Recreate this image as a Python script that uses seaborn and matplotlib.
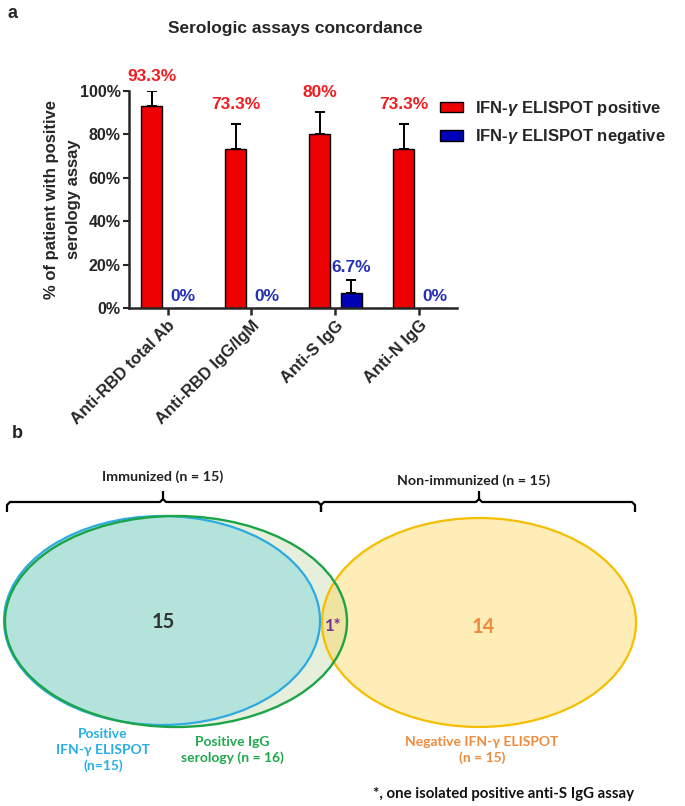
import numpy as np
import pandas as pd
import matplotlib
matplotlib.use('Agg')
import matplotlib.pyplot as plt
import seaborn as sns
from matplotlib.patches import Ellipse, Patch
from matplotlib.ticker import FuncFormatter

# ---------------- data ----------------
assays = ['Anti-RBD total Ab', 'Anti-RBD IgG/IgM', 'Anti-S IgG', 'Anti-N IgG']
groups = ['IFN-$\\gamma$ ELISPOT positive', 'IFN-$\\gamma$ ELISPOT negative']
pos_values = [93.3, 73.3, 80.0, 73.3]
neg_values = [0.0, 0.0, 6.7, 0.0]
pos_err = [6.7, 11.4, 10.3, 11.4]
neg_err = [0.0, 0.0, 6.4, 0.0]

venn_counts = ['15', '1*', '14']
bracket_labels = ['Immunized (n = 15)', 'Non-immunized (n = 15)']
set_labels = ['Positive\nIFN-γ ELISPOT\n(n=15)',
              'Positive IgG\nserology (n = 16)',
              'Negative IFN-γ ELISPOT\n(n = 15)']
footnote = '*, one isolated positive anti-S IgG assay'

# ---------------- style ----------------
sns.set_style('ticks')
plt.rcParams['font.family'] = ['Liberation Sans', 'DejaVu Sans']
plt.rcParams['font.weight'] = 'bold'
plt.rcParams['mathtext.fontset'] = 'custom'
plt.rcParams['mathtext.it'] = 'Liberation Sans:italic:bold'
plt.rcParams['mathtext.rm'] = 'Liberation Sans:bold'

red = '#EC0000'
blue = '#0000B4'
red_txt = '#F01E23'
blue_txt = '#2430B5'

W, H = 685, 806
fig = plt.figure(figsize=(W / 100, H / 100), dpi=100)

# ---------------- panel a ----------------
ax = fig.add_axes([129 / W, 1 - 308 / H, (457 - 129) / W, (308 - 91) / H])

df = pd.DataFrame({
    'assay': assays * 2,
    'group': [groups[0]] * 4 + [groups[1]] * 4,
    'value': pos_values + neg_values,
})
bar_width = 0.75
sns.barplot(data=df, x='assay', y='value', hue='group', palette=[red, blue],
            saturation=1, width=bar_width, gap=0.33, edgecolor='black',
            linewidth=1, errorbar=None, ax=ax, legend=False)

errs = [pos_err, neg_err]
vals = [pos_values, neg_values]
txt_cols = [red_txt, blue_txt]
offs = [[5, 9, 9, 9], [3, 3, 3, 3]]
shift = [-bar_width / 4, bar_width / 4]
for k in range(2):
    for i in range(len(assays)):
        xc = i + shift[k]
        top = vals[k][i] + errs[k][i]
        if errs[k][i] > 0:
            ax.errorbar(xc, vals[k][i], yerr=[[0], [errs[k][i]]], fmt='none',
                        ecolor='black', elinewidth=1.4, capsize=3.5,
                        capthick=1.4, zorder=1)
        ax.annotate(f'{vals[k][i]:g}%', (xc, top), xytext=(0, offs[k][i]),
                    textcoords='offset points', ha='center', va='bottom',
                    color=txt_cols[k], fontsize=12.5, fontweight='bold',
                    annotation_clip=False)

ax.set_ylim(0, 100)
ax.set_xlim(-0.46, 3.45)
ax.set_yticks([0, 20, 40, 60, 80, 100])
ax.yaxis.set_major_formatter(FuncFormatter(lambda v, p: f'{v:.0f}%'))
ax.set_xlabel('')
ax.set_ylabel('% of patient with positive\nserology assay', fontsize=12,
              fontweight='bold', linespacing=1.6)
ax.yaxis.set_label_coords(-0.145, 0.5)
ax.tick_params(axis='y', labelsize=11.5, width=1.5, length=4, pad=2)
ax.tick_params(axis='x', labelsize=12, width=1.8, length=5, pad=2)
plt.setp(ax.get_xticklabels(), rotation=45, ha='right',
         rotation_mode='anchor', fontweight='bold')
sns.despine(ax=ax)
for s in ['left', 'bottom']:
    ax.spines[s].set_linewidth(1.8)

handles = [Patch(facecolor=red, edgecolor='black', linewidth=1),
           Patch(facecolor=blue, edgecolor='black', linewidth=1)]
fig.legend(handles, groups, loc='upper left',
           bbox_to_anchor=(440 / W, 1 - 99 / H), bbox_transform=fig.transFigure,
           frameon=False, fontsize=12, handlelength=1.4, handleheight=0.6,
           handletextpad=0.7, labelspacing=0.55, borderpad=0,
           borderaxespad=0)

fig.text(295 / W, 1 - 29 / H, 'Serologic assays concordance', ha='center',
         va='center', fontsize=12.5, fontweight='bold')
fig.text(13 / W, 1 - 14 / H, 'a', ha='center', va='center', fontsize=13,
         fontweight='bold')
fig.text(17 / W, 1 - 433 / H, 'b', ha='center', va='center', fontsize=13,
         fontweight='bold')

# ---------------- panel b (pixel coordinates) ----------------
bx = fig.add_axes([0, 0, 1, 1])
bx.set_xlim(0, W)
bx.set_ylim(H, 0)
bx.axis('off')
bx.patch.set_visible(False)

vfont = ['Lato', 'Open Sans', 'DejaVu Sans']

# ellipses: (center x, center y, width, height)
green_el = (176, 621.5, 342, 211)
blue_el = (162, 620.5, 316, 209)
yellow_el = (479, 622.5, 314, 209)

bx.add_patch(Ellipse(green_el[:2], green_el[2], green_el[3],
                     facecolor='#E5EFDB', edgecolor='none', zorder=1))
bx.add_patch(Ellipse(blue_el[:2], blue_el[2], blue_el[3],
                     facecolor='#B4E3DC', edgecolor='none', zorder=2))
bx.add_patch(Ellipse(yellow_el[:2], yellow_el[2], yellow_el[3],
                     facecolor='#FFD34D', alpha=0.4, edgecolor='none', zorder=3))
bx.add_patch(Ellipse(yellow_el[:2], yellow_el[2], yellow_el[3], fill=False,
                     edgecolor='#F6BE00', linewidth=1.6, zorder=4))
bx.add_patch(Ellipse(blue_el[:2], blue_el[2], blue_el[3], fill=False,
                     edgecolor='#2DAAE1', linewidth=1.6, zorder=5))
bx.add_patch(Ellipse(green_el[:2], green_el[2], green_el[3], fill=False,
                     edgecolor='#1BA548', linewidth=1.7, zorder=6))

# brackets
def brace(x0, x1, xm, y, depth=10, tip=11):
    xs = [x0, x0, x0 + 3, xm - 3, xm, xm]
    ys = [y + depth, y + 3, y, y, y - 3, y - tip]
    bx.plot(xs, ys, color='black', lw=1.6, solid_capstyle='butt', zorder=7)
    xs = [xm, xm + 3, x1 - 3, x1, x1]
    ys = [y - 3, y, y, y + 3, y + depth]
    bx.plot(xs, ys, color='black', lw=1.6, solid_capstyle='butt', zorder=7)

brace(7, 321, 163, 502)
brace(321, 635, 479, 502)
bx.text(163, 477, bracket_labels[0], ha='center', va='center', fontsize=10.3,
        fontweight='bold', family=vfont, color='#222222')
bx.text(474, 481, bracket_labels[1], ha='center', va='center', fontsize=10.3,
        fontweight='bold', family=vfont, color='#222222')

bx.text(163, 622, venn_counts[0], ha='center', va='center', fontsize=14.5,
        fontweight='bold', family=vfont, color='#333333', zorder=8)
bx.text(333, 626, venn_counts[1], ha='center', va='center', fontsize=12,
        fontweight='bold', family=vfont, color='#7030A0', zorder=8)
bx.text(483, 627, venn_counts[2], ha='center', va='center', fontsize=14.5,
        fontweight='bold', family=vfont, color='#EE8A3E', zorder=8)

bx.text(103, 750, set_labels[0], ha='center', va='center', fontsize=10,
        fontweight='bold', family=vfont, color='#2AAEE6', linespacing=1.4)
bx.text(232, 750, set_labels[1], ha='center', va='center', fontsize=10,
        fontweight='bold', family=vfont, color='#1FA84C', linespacing=1.4)
bx.text(482, 750, set_labels[2], ha='center', va='center', fontsize=10,
        fontweight='bold', family=vfont, color='#F08A3C', linespacing=1.4)
bx.text(504, 794, footnote, ha='center', va='center', fontsize=10.8,
        fontweight='bold', family=vfont, color='#111111')

fig.savefig('out.png', dpi=100)
